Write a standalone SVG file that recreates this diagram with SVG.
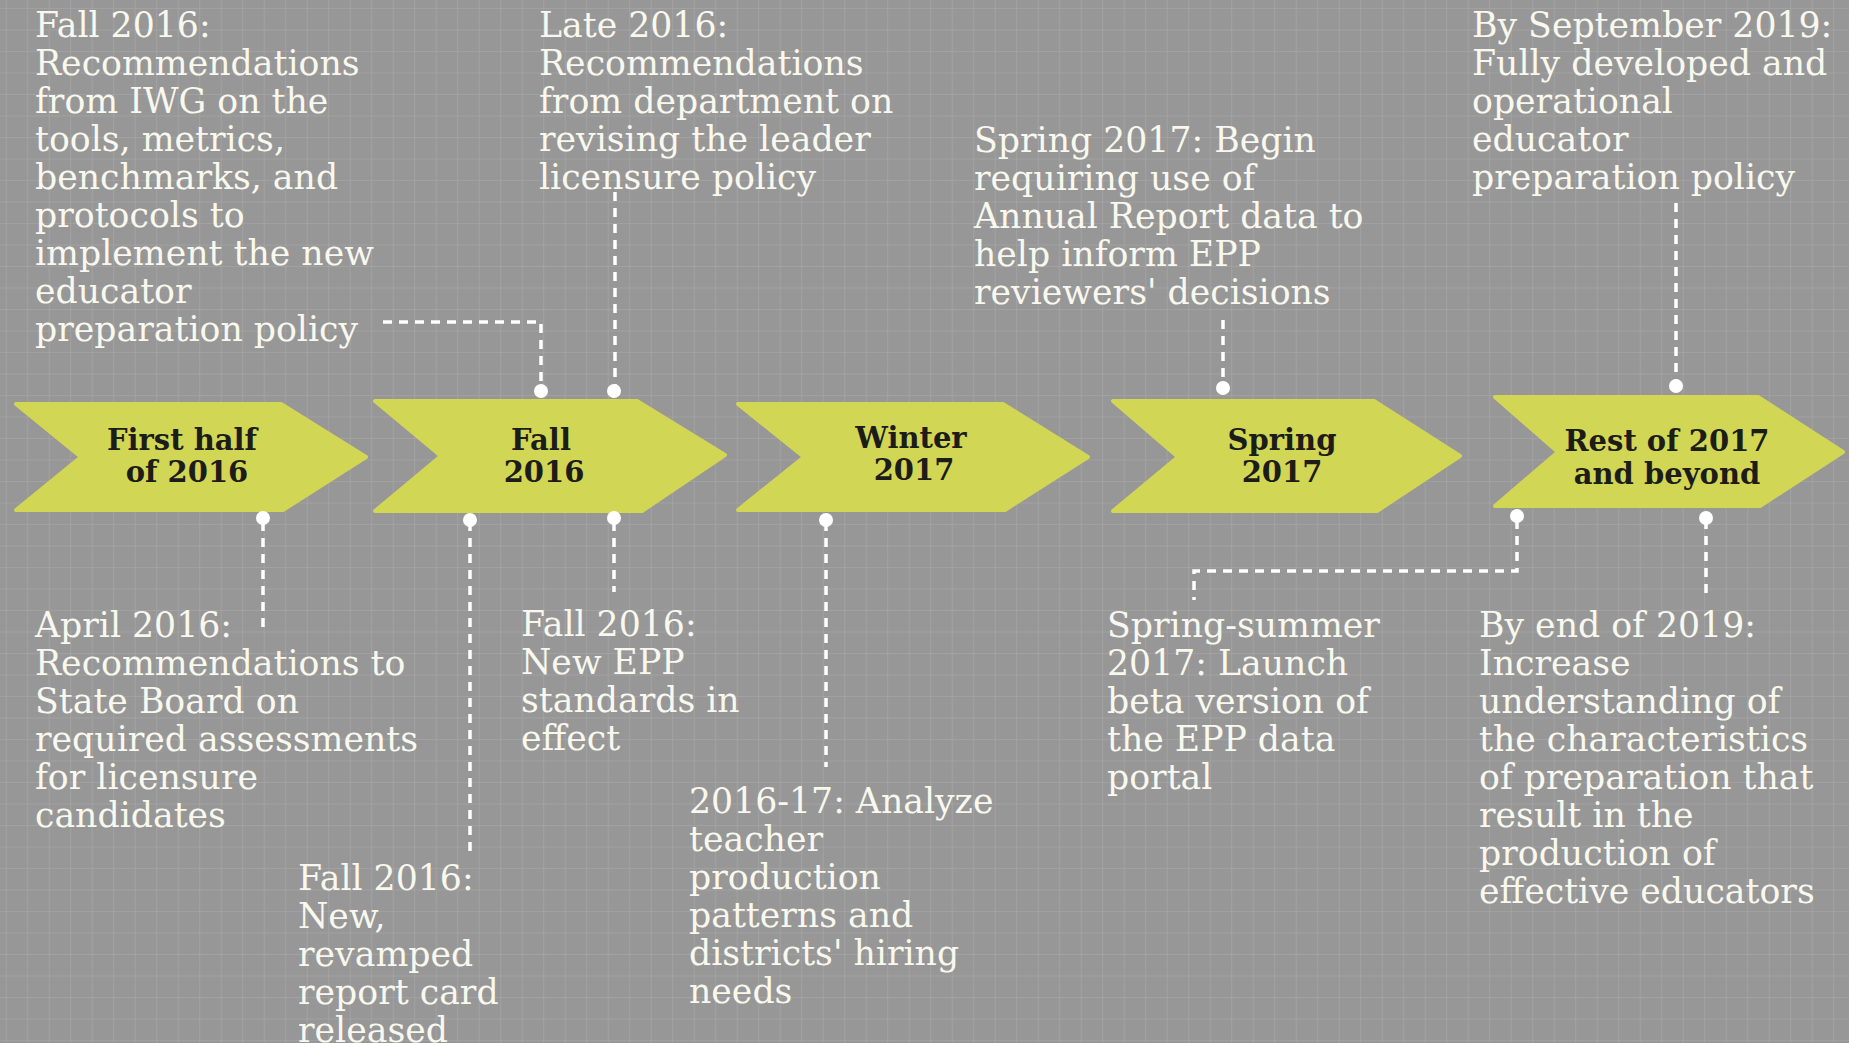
<svg xmlns="http://www.w3.org/2000/svg" width="1849" height="1043" viewBox="0 0 1849 1043">
  <defs>
    <pattern id="grid" x="5.7" y="8" width="21.5" height="21.5" patternUnits="userSpaceOnUse">
      <path d="M0 0 H21.5 M0 0 V21.5" fill="none" stroke="#a5a5a5" stroke-width="1.6"/>
    </pattern>
    <style>
      .bg { fill: #979797; }
      .chev { fill: #d2d655; stroke: #d2d655; stroke-width: 4; stroke-linejoin: round; }
      .lbl { font-family: "DejaVu Serif", "Liberation Serif", serif; font-weight: bold; font-size: 29px; fill: #1c1c18; text-anchor: middle; }
      .txt { font-family: "DejaVu Serif", "Liberation Serif", serif; font-size: 34.7px; fill: #f8f8ee; }
      .dash { fill: none; stroke: #ffffff; stroke-width: 3.5; stroke-dasharray: 9 7; }
      .dot { fill: #ffffff; }
    </style>
  </defs>
  <rect class="bg" x="0" y="0" width="1849" height="1043"/>
  <rect x="0" y="0" width="1849" height="1043" fill="url(#grid)"/>

  <g id="phase1">
    <polygon class="chev" points="16,404 281,404 366,457 283,510 16,510 81,457"/>
    <text class="lbl" x="182" y="450">First half</text>
    <text class="lbl" x="187" y="482">of 2016</text>
  </g>
  <g id="phase2">
    <polygon class="chev" points="375,401 637,401 725,455 642,511 375,511 441,456"/>
    <text class="lbl" x="541" y="450">Fall</text>
    <text class="lbl" x="544" y="482">2016</text>
  </g>
  <g id="phase3">
    <polygon class="chev" points="738,404 1003,404 1088,457 1005,510 738,510 804,457"/>
    <text class="lbl" x="911" y="448">Winter</text>
    <text class="lbl" x="914" y="480">2017</text>
  </g>
  <g id="phase4">
    <polygon class="chev" points="1113,401 1374,401 1460,456 1377,511 1113,511 1178,457"/>
    <text class="lbl" x="1282" y="450">Spring</text>
    <text class="lbl" x="1282" y="482">2017</text>
  </g>
  <g id="phase5">
    <polygon class="chev" points="1495,397 1758,397 1843,452 1760,506 1495,506 1558,452"/>
    <text class="lbl" x="1667" y="451">Rest of 2017</text>
    <text class="lbl" x="1667" y="484">and beyond</text>
  </g>

  <g id="connectors">
    <path class="dash" d="M383 322 H541 V388"/>
    <path class="dash" d="M615 192 V388"/>
    <path class="dash" d="M1223 320 V386"/>
    <path class="dash" d="M1676 203 V384"/>
    <path class="dash" d="M263 522 V630"/>
    <path class="dash" d="M470 522 V852"/>
    <path class="dash" d="M614 522 V592"/>
    <path class="dash" d="M826 522 V767"/>
    <path class="dash" d="M1517 520 V571 H1194 V600"/>
    <path class="dash" d="M1706 520 V597"/>
    <circle class="dot" cx="541" cy="391" r="7"/>
    <circle class="dot" cx="614" cy="391" r="7"/>
    <circle class="dot" cx="1223" cy="388" r="7"/>
    <circle class="dot" cx="1676" cy="386" r="7"/>
    <circle class="dot" cx="263" cy="518" r="7"/>
    <circle class="dot" cx="470" cy="520" r="7"/>
    <circle class="dot" cx="614" cy="518" r="7"/>
    <circle class="dot" cx="826" cy="520" r="7"/>
    <circle class="dot" cx="1517" cy="516" r="7"/>
    <circle class="dot" cx="1706" cy="518" r="7"/>
  </g>

  <g id="note-iwg">
    <text class="txt" x="35" y="37">Fall 2016:<tspan x="35" dy="38">Recommendations</tspan><tspan x="35" dy="38">from IWG on the</tspan><tspan x="35" dy="38">tools, metrics,</tspan><tspan x="35" dy="38">benchmarks, and</tspan><tspan x="35" dy="38">protocols to</tspan><tspan x="35" dy="38">implement the new</tspan><tspan x="35" dy="38">educator</tspan><tspan x="35" dy="38">preparation policy</tspan></text>
  </g>
  <g id="note-leader">
    <text class="txt" x="539" y="37">Late 2016:<tspan x="539" dy="38">Recommendations</tspan><tspan x="539" dy="38">from department on</tspan><tspan x="539" dy="38">revising the leader</tspan><tspan x="539" dy="38">licensure policy</tspan></text>
  </g>
  <g id="note-annual">
    <text class="txt" x="974" y="152">Spring 2017: Begin<tspan x="974" dy="38">requiring use of</tspan><tspan x="974" dy="38">Annual Report data to</tspan><tspan x="974" dy="38">help inform EPP</tspan><tspan x="974" dy="38">reviewers' decisions</tspan></text>
  </g>
  <g id="note-sept2019">
    <text class="txt" x="1472" y="37">By September 2019:<tspan x="1472" dy="38">Fully developed and</tspan><tspan x="1472" dy="38">operational</tspan><tspan x="1472" dy="38">educator</tspan><tspan x="1472" dy="38">preparation policy</tspan></text>
  </g>
  <g id="note-april">
    <text class="txt" x="35" y="637">April 2016:<tspan x="35" dy="38">Recommendations to</tspan><tspan x="35" dy="38">State Board on</tspan><tspan x="35" dy="38">required assessments</tspan><tspan x="35" dy="38">for licensure</tspan><tspan x="35" dy="38">candidates</tspan></text>
  </g>
  <g id="note-reportcard">
    <text class="txt" x="298" y="890">Fall 2016:<tspan x="298" dy="38">New,</tspan><tspan x="298" dy="38">revamped</tspan><tspan x="298" dy="38">report card</tspan><tspan x="298" dy="38">released</tspan></text>
  </g>
  <g id="note-standards">
    <text class="txt" x="521" y="636">Fall 2016:<tspan x="521" dy="38">New EPP</tspan><tspan x="521" dy="38">standards in</tspan><tspan x="521" dy="38">effect</tspan></text>
  </g>
  <g id="note-analyze">
    <text class="txt" x="689" y="813">2016-17: Analyze<tspan x="689" dy="38">teacher</tspan><tspan x="689" dy="38">production</tspan><tspan x="689" dy="38">patterns and</tspan><tspan x="689" dy="38">districts' hiring</tspan><tspan x="689" dy="38">needs</tspan></text>
  </g>
  <g id="note-portal">
    <text class="txt" x="1107" y="637">Spring-summer<tspan x="1107" dy="38">2017: Launch</tspan><tspan x="1107" dy="38">beta version of</tspan><tspan x="1107" dy="38">the EPP data</tspan><tspan x="1107" dy="38">portal</tspan></text>
  </g>
  <g id="note-end2019">
    <text class="txt" x="1479" y="637">By end of 2019:<tspan x="1479" dy="38">Increase</tspan><tspan x="1479" dy="38">understanding of</tspan><tspan x="1479" dy="38">the characteristics</tspan><tspan x="1479" dy="38">of preparation that</tspan><tspan x="1479" dy="38">result in the</tspan><tspan x="1479" dy="38">production of</tspan><tspan x="1479" dy="38">effective educators</tspan></text>
  </g>
</svg>
